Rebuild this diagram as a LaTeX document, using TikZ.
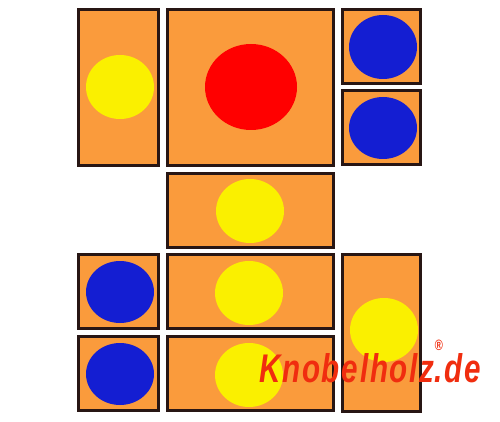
\documentclass[tikz,border=0pt]{standalone}
\usepackage{fontspec}
\usepackage{graphicx}
\usepackage{tikz}

\newfontfamily\logofont[LetterSpace=6]{Liberation Sans}
\newfontfamily\markfont{Liberation Sans}
\definecolor{woodorange}{RGB}{250,155,60}
\definecolor{edgebrown}{RGB}{40,22,20}
\definecolor{pinyellow}{RGB}{250,240,0}
\definecolor{pinred}{RGB}{255,0,0}
\definecolor{pinblue}{RGB}{20,30,210}
\definecolor{logored}{RGB}{240,45,15}

\begin{document}
\begin{tikzpicture}[x=1pt, y=-1pt,
    block/.style={fill=woodorange, draw=edgebrown, line width=3pt},
    yellowdot/.style={fill=pinyellow},
    bluedot/.style={fill=pinblue}]
    \useasboundingbox (0,0) rectangle (500,422);

    % big square and left column
    \draw[block] (78.5,9.5) rectangle (158.5,165.5);
    \draw[block] (167.5,9.5) rectangle (333.5,165.5);
    \fill[yellowdot] (120,87) ellipse (34 and 32);
    \fill[pinred] (251,87) ellipse (46 and 43);

    % small squares on the right
    \foreach \y in {9.5,90.5} {
      \draw[block] (342.5,\y) rectangle (420.5,\y+74);
    }
    \fill[bluedot] (383,47) ellipse (34 and 32);
    \fill[bluedot] (383,128) ellipse (34 and 31);

    % horizontal bars
    \foreach \y in {173.5,254.5,336.5} {
      \draw[block] (167.5,\y) rectangle (333.5,\y+74);
    }
    \fill[yellowdot] (250,211) ellipse (34 and 32);
    \fill[yellowdot] (249,293) ellipse (34 and 32);
    \fill[yellowdot] (249,375) ellipse (34 and 32);

    % small squares on the left
    \foreach \y in {254.5,336.5} {
      \draw[block] (78.5,\y) rectangle (158.5,\y+74);
      \fill[bluedot] (120,\y+37.5) ellipse (34 and 31);
    }

    % tall block on the right
    \draw[block] (342.5,254.5) rectangle (420.5,411.5);
    \fill[yellowdot] (384,330) ellipse (34 and 32);

    \node[anchor=base, inner sep=0pt, text=logored] (logo) at (370,382)
      {\scalebox{0.74}[1]{\logofont\bfseries\itshape\fontsize{40}{40}\selectfont
       Knobelholz\rlap{\raisebox{0.78em}{\markfont\fontsize{15}{15}\selectfont\kern0pt ®}}.de}};
\end{tikzpicture}
\end{document}
